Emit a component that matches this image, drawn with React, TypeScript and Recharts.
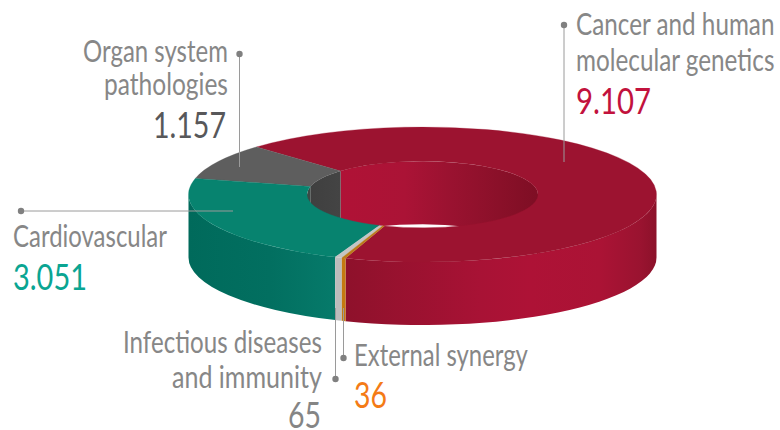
import React from "react";
import { PieChart, Pie } from "recharts";

const categories = [
  "Cancer and human molecular genetics",
  "Organ system pathologies",
  "Cardiovascular",
  "Infectious diseases and immunity",
  "External synergy",
];
const values = [9107, 1157, 3051, 65, 36];
const valueLabels = ["9.107", "1.157", "3.051", "65", "36"];
const sectors = categories.map((name, i) => ({ name, value: values[i] }));

const CX = 422.5;
const CY = 194.5;
const R_OUT = 234;
const R_IN = 115.5;
const FLAT = 67.5 / 234;
const DEPTH = 63;
const RAD = Math.PI / 180;

type Stop = [number, string];
const topColors = ["#9c1330", "#5e5e5e", "#07836f", "#c4c4c4", "#bb7a1a"];
const outerWall: Stop[][] = [
  [[345, "#8e112b"], [480, "#a81235"], [530, "#ae1236"], [600, "#ab1335"], [640, "#9a1330"], [656, "#8c112a"]],
  [[0, "#5a5a5a"], [1, "#5a5a5a"]],
  [[188, "#006a5b"], [270, "#026f60"], [335, "#067a6a"]],
  [[0, "#bcbcbc"], [1, "#bcbcbc"]],
  [[0, "#c47a10"], [1, "#c47a10"]],
];
const innerWall: Stop[][] = [
  [[340, "#b01236"], [405, "#ab1336"], [450, "#9a1230"], [500, "#8a1029"], [538, "#7e0e24"]],
  [[308, "#3f3f3f"], [340, "#444444"]],
  [[0, "#3c4a46"], [1, "#3c4a46"]],
  [[0, "#bcbcbc"], [1, "#bcbcbc"]],
  [[0, "#c47a10"], [1, "#c47a10"]],
];

const pt = (r: number, deg: number, dy = 0): [number, number] => [
  CX + r * Math.cos(deg * RAD),
  CY - FLAT * r * Math.sin(deg * RAD) + dy,
];
const arc = (r: number, a: number, b: number, dy = 0) => {
  const [x, y] = pt(r, b, dy);
  const large = Math.abs(b - a) > 180 ? 1 : 0;
  const sweep = b > a ? 0 : 1;
  return `A${r} ${r * FLAT} 0 ${large} ${sweep} ${x} ${y}`;
};
const wallPath = (r: number, a: number, b: number) => {
  const [x0, y0] = pt(r, a);
  const [x1, y1] = pt(r, b, DEPTH);
  return `M${x0} ${y0}${arc(r, a, b)}L${x1} ${y1}${arc(r, b, a, DEPTH)}Z`;
};
const visibleRanges = (s: number, e: number, from: number, to: number) => {
  const out: [number, number][] = [];
  for (let k = -1; k <= 1; k++) {
    const a = Math.max(s, from + 360 * k);
    const b = Math.min(e, to + 360 * k);
    if (b > a) out.push([a, b]);
  }
  return out;
};

const idx = (p: any) => categories.indexOf(p.name ?? p.payload?.name);
const angles = (p: any): [number, number] => [
  Math.min(p.startAngle, p.endAngle),
  Math.max(p.startAngle, p.endAngle),
];

const Gradient = ({ id, stops }: { id: string; stops: Stop[] }) => {
  const x0 = stops[0][0];
  const x1 = stops[stops.length - 1][0];
  return (
    <defs>
      <linearGradient id={id} gradientUnits="userSpaceOnUse" x1={x0} x2={x1} y1={0} y2={0}>
        {stops.map(([x, c], i) => (
          <stop key={i} offset={(x - x0) / (x1 - x0)} stopColor={c} />
        ))}
      </linearGradient>
    </defs>
  );
};

const InnerWallShape = (p: any) => {
  const i = idx(p);
  const [s, e] = angles(p);
  const id = `inner-${i}`;
  return (
    <g>
      <Gradient id={id} stops={innerWall[i]} />
      {visibleRanges(s, e, 0, 180).map(([a, b], k) => (
        <path key={k} d={wallPath(R_IN, a, b)} fill={`url(#${id})`} />
      ))}
    </g>
  );
};

const OuterWallShape = (p: any) => {
  const i = idx(p);
  const [s, e] = angles(p);
  const id = `outer-${i}`;
  return (
    <g>
      <Gradient id={id} stops={outerWall[i]} />
      {visibleRanges(s, e, 180, 360).map(([a, b], k) => (
        <path key={k} d={wallPath(R_OUT, a, b)} fill={`url(#${id})`} />
      ))}
    </g>
  );
};

const TopShape = (p: any) => {
  const i = idx(p);
  const [s, e] = angles(p);
  const [x0, y0] = pt(R_OUT, s);
  const [x1, y1] = pt(R_IN, e);
  const d = `M${x0} ${y0}${arc(R_OUT, s, e)}L${x1} ${y1}${arc(R_IN, e, s)}Z`;
  return <path d={d} fill={topColors[i]} stroke={topColors[i]} strokeWidth={0.3} />;
};

const FONT_NAME = "Lato";
const GREY = "#878787";
const LABEL_SIZE = 31;
const NUM_SIZE = 37;

const ctx = document.createElement("canvas").getContext("2d")!;
const FitText = ({ t, x, y, w, size, fill }: { t: string; x: number; y: number; w: number; size: number; fill: string }) => {
  ctx.font = `${size}px ${FONT_NAME}`;
  const sx = w / ctx.measureText(t).width;
  return (
    <text transform={`translate(${x} ${y}) scale(${sx} 1)`} fontFamily={FONT_NAME} fontSize={size} fill={fill}>
      {t}
    </text>
  );
};

type Line = { t: string; x: number; y: number; w: number };
const callouts: {
  lines: Line[];
  num: { x: number; y: number; w: number; color: string };
  dot: [number, number];
  end: [number, number];
}[] = [
  {
    lines: [
      { t: "Cancer and human", x: 576, y: 35, w: 199 },
      { t: "molecular genetics", x: 576, y: 71, w: 199 },
    ],
    num: { x: 576, y: 114, w: 75, color: "#c2123d" },
    dot: [564, 25],
    end: [564, 162],
  },
  {
    lines: [
      { t: "Organ system", x: 83, y: 62, w: 145 },
      { t: "pathologies", x: 104, y: 95, w: 124 },
    ],
    num: { x: 153, y: 138, w: 73, color: "#58585a" },
    dot: [239.5, 54],
    end: [239.5, 167],
  },
  {
    lines: [{ t: "Cardiovascular", x: 13, y: 247, w: 154 }],
    num: { x: 13, y: 290, w: 74, color: "#0aa592" },
    dot: [21, 211],
    end: [233, 211],
  },
  {
    lines: [
      { t: "Infectious diseases", x: 123, y: 353, w: 199 },
      { t: "and immunity", x: 172, y: 388, w: 150 },
    ],
    num: { x: 288, y: 428, w: 33, color: "#858585" },
    dot: [335.5, 379],
    end: [335.5, 308],
  },
  {
    lines: [{ t: "External synergy", x: 354, y: 366, w: 174 }],
    num: { x: 354, y: 408, w: 33, color: "#f47b16" },
    dot: [343.5, 358],
    end: [343.5, 308],
  },
];

const renderLabel = (p: any) => {
  const i = idx(p);
  const c = callouts[i];
  return (
    <g key={i}>
      <line x1={c.dot[0]} y1={c.dot[1]} x2={c.end[0]} y2={c.end[1]} stroke="#9a9a9a" strokeWidth={1} />
      <circle cx={c.dot[0]} cy={c.dot[1]} r={3.2} fill="#808080" />
      {c.lines.map((l, k) => (
        <FitText key={k} t={l.t} x={l.x} y={l.y} w={l.w} size={LABEL_SIZE} fill={GREY} />
      ))}
      <FitText t={valueLabels[i]} x={c.num.x} y={c.num.y} w={c.num.w} size={NUM_SIZE} fill={c.num.color} />
    </g>
  );
};

const common = {
  data: sectors,
  dataKey: "value",
  nameKey: "name",
  cx: CX,
  cy: CY,
  innerRadius: R_IN,
  outerRadius: R_OUT,
  startAngle: -109.2,
  endAngle: 250.8,
  paddingAngle: 0,
  stroke: "none",
  isAnimationActive: false,
  labelLine: false,
};

export default function App() {
  return (
    <div style={{ position: "absolute", left: 0, top: 0, width: 780, height: 430 }}>
      <PieChart width={780} height={430} margin={{ top: 0, right: 0, bottom: 0, left: 0 }}>
        <Pie {...common} shape={InnerWallShape} />
        <Pie {...common} shape={OuterWallShape} />
        <Pie {...common} shape={TopShape} label={renderLabel} />
      </PieChart>
    </div>
  );
}
